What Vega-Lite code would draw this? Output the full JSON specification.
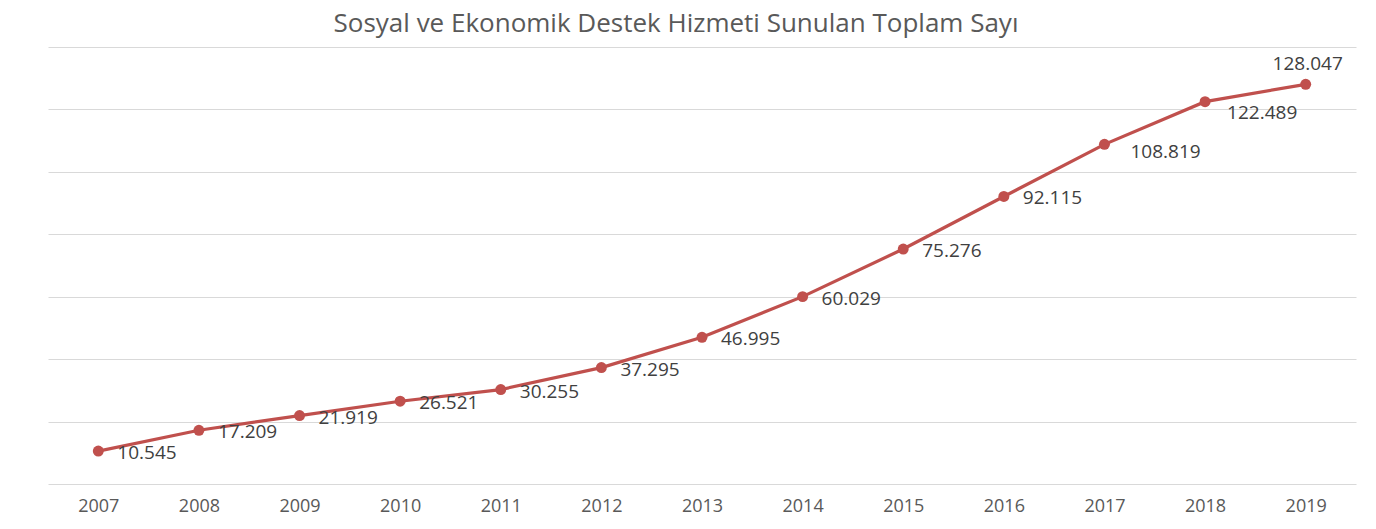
{
  "$schema": "https://vega.github.io/schema/vega-lite/v6.json",
  "width": 1308,
  "height": 437,
  "autosize": {"type": "none"},
  "padding": {"left": 48, "top": 47, "right": 20, "bottom": 45},
  "background": "white",
  "config": {
    "locale": {"number": {"decimal": ",", "thousands": ".", "grouping": [3], "currency": ["", " ₺"]}},
    "view": {"stroke": null},
    "font": "Open Sans"
  },
  "title": {
    "text": "Sosyal ve Ekonomik Destek Hizmeti Sunulan Toplam Sayı",
    "fontSize": 26,
    "fontWeight": "normal",
    "color": "#595959",
    "font": "Open Sans",
    "offset": 10,
    "dx": -26
  },
  "data": {
    "values": [
      {"yil": "2007", "sayi": 10545},
      {"yil": "2008", "sayi": 17209},
      {"yil": "2009", "sayi": 21919},
      {"yil": "2010", "sayi": 26521},
      {"yil": "2011", "sayi": 30255},
      {"yil": "2012", "sayi": 37295},
      {"yil": "2013", "sayi": 46995},
      {"yil": "2014", "sayi": 60029},
      {"yil": "2015", "sayi": 75276},
      {"yil": "2016", "sayi": 92115},
      {"yil": "2017", "sayi": 108819},
      {"yil": "2018", "sayi": 122489},
      {"yil": "2019", "sayi": 128047}
    ]
  },
  "encoding": {
    "x": {
      "field": "yil",
      "type": "ordinal",
      "scale": {"type": "point", "padding": 0.5},
      "axis": {
        "title": null,
        "labelAngle": 0,
        "ticks": false,
        "domain": false,
        "labelFontSize": 18,
        "labelColor": "#595959",
        "labelPadding": 13,
        "labelFont": "Open Sans"
      }
    },
    "y": {
      "field": "sayi",
      "type": "quantitative",
      "scale": {"domain": [0, 140000], "nice": false},
      "axis": {
        "title": null,
        "labels": false,
        "ticks": false,
        "domain": false,
        "values": [0, 20000, 40000, 60000, 80000, 100000, 120000, 140000],
        "gridColor": "#d9d9d9",
        "gridWidth": 1
      }
    }
  },
  "layer": [
    {"mark": {"type": "line", "color": "#C0504D", "strokeWidth": 3.2}},
    {"mark": {"type": "circle", "color": "#C0504D", "opacity": 1, "size": 120}},
    {
      "transform": [{"filter": "datum.yil < '2017'"}],
      "mark": {"type": "text", "align": "left", "baseline": "middle", "dx": 19, "dy": 2, "fontSize": 19, "color": "#404040", "font": "Open Sans"},
      "encoding": {"text": {"field": "sayi", "type": "quantitative", "format": ","}}
    },
    {
      "transform": [{"filter": "datum.yil == '2017'"}],
      "mark": {"type": "text", "align": "left", "baseline": "middle", "dx": 26, "dy": 8, "fontSize": 19, "color": "#404040", "font": "Open Sans"},
      "encoding": {"text": {"field": "sayi", "type": "quantitative", "format": ","}}
    },
    {
      "transform": [{"filter": "datum.yil == '2018'"}],
      "mark": {"type": "text", "align": "left", "baseline": "middle", "dx": 22, "dy": 11, "fontSize": 19, "color": "#404040", "font": "Open Sans"},
      "encoding": {"text": {"field": "sayi", "type": "quantitative", "format": ","}}
    },
    {
      "transform": [{"filter": "datum.yil == '2019'"}],
      "mark": {"type": "text", "align": "center", "baseline": "middle", "dx": 2, "dy": -20, "fontSize": 19, "color": "#404040", "font": "Open Sans"},
      "encoding": {"text": {"field": "sayi", "type": "quantitative", "format": ","}}
    }
  ]
}
